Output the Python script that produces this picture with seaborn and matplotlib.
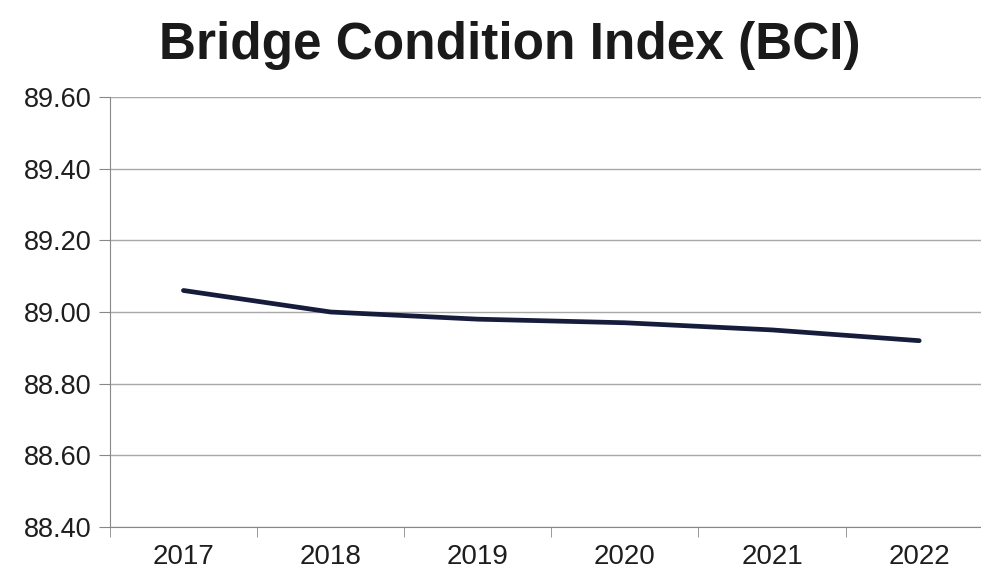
import numpy as np
import pandas as pd
import seaborn as sns
import matplotlib.pyplot as plt
from matplotlib.ticker import MultipleLocator, FixedLocator, FormatStrFormatter

# values
years = ["2017", "2018", "2019", "2020", "2021", "2022"]
bci = [89.06, 89.00, 88.98, 88.97, 88.95, 88.92]

df = pd.DataFrame({"pos": np.arange(len(years)), "BCI": bci})

sns.set_style("white")
plt.rcParams['font.family'] = ['Liberation Sans', 'DejaVu Sans']

fig = plt.figure(figsize=(9.81, 5.73), dpi=100)
ax = fig.add_axes([0.112, 0.080, 0.90, 0.751])

sns.lineplot(x="pos", y="BCI", data=df, ax=ax, color="#161c3c", linewidth=3.4)

ax.set_ylim(88.40, 89.60)
ax.yaxis.set_major_locator(MultipleLocator(0.2))
ax.yaxis.set_major_formatter(FormatStrFormatter("%.2f"))
ax.set_xlim(-0.5, 5.5)
ax.set_xticks(range(len(years)))
ax.set_xticklabels(years)
ax.xaxis.set_minor_locator(FixedLocator(np.arange(-0.5, 5.6, 1)))

ax.grid(axis="y", color="#a8a8a8", linewidth=1)
ax.tick_params(axis="x", which="major", bottom=False, length=0, labelsize=20, pad=12, labelcolor="#1e1e1e")
ax.tick_params(axis="x", which="minor", bottom=True, length=7, color="#888888", direction="out")
ax.tick_params(axis="y", left=True, length=8, color="#888888", labelsize=19.5, pad=5, labelcolor="#1e1e1e")
for s in ["top", "right"]:
    ax.spines[s].set_visible(False)
for s in ["left", "bottom"]:
    ax.spines[s].set_color("#888888")
ax.set_xlabel("")
ax.set_ylabel("")

fig.text(0.52, 0.92, "Bridge Condition Index (BCI)", ha="center", va="center",
         fontsize=37, fontweight="bold", color="#1a1a1a")

plt.savefig("out.png", dpi=100)
